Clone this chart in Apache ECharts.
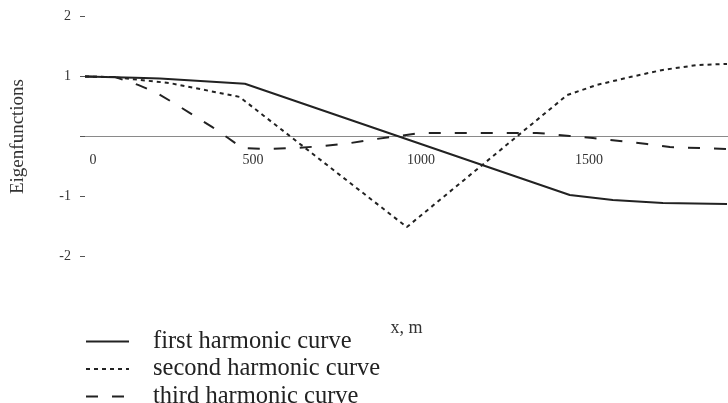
<!DOCTYPE html>
<html>
<head>
<meta charset="utf-8">
<script src="https://cdn.jsdelivr.net/npm/echarts@6/dist/echarts.min.js"></script>
<style>
html,body{margin:0;padding:0;background:#fff;}
#c{width:728px;height:403px;}
</style>
</head>
<body>
<div id="c"></div>
<script>
// Data
const seriesNames = ['first harmonic curve', 'second harmonic curve', 'third harmonic curve'];

const firstX = [0, 150, 223, 476, 1443, 1571, 1720, 1911];
const firstY = [1.0, 0.98, 0.965, 0.88, -0.975, -1.06, -1.11, -1.125];

const secondX = [0, 83, 253, 460, 958, 1435, 1524, 1622, 1720, 1821, 1911];
const secondY = [1.0, 0.99, 0.89, 0.66, -1.51, 0.69, 0.86, 0.99, 1.11, 1.19, 1.21];

const thirdX = [0, 90, 158, 214, 274, 321, 378, 426, 467, 542, 631, 708, 789, 869, 938, 997, 1345, 1443, 1512, 1592, 1673, 1741, 1911];
const thirdY = [1.0, 0.99, 0.86, 0.725, 0.525, 0.36, 0.16, -0.025, -0.19, -0.21, -0.19, -0.16, -0.11, -0.04, 0.01, 0.06, 0.06, 0.01, -0.025, -0.075, -0.125, -0.175, -0.21];

const xTickLabels = ['0', '500', '1000', '1500'];
const yTickLabels = ['-2', '-1', '', '1', '2'];

const pairs = (xs, ys) => xs.map((x, i) => [x, ys[i]]);
const FONT = 'Liberation Serif';
const INK = '#222';

const chart = echarts.init(document.getElementById('c'), null, {renderer: 'canvas'});
chart.setOption({
  animation: false,
  backgroundColor: '#fff',
  grid: {left: 85, right: 0, top: 16.5, bottom: 146.5, containLabel: false, outerBoundsMode: 'none'},
  legend: {
    orient: 'vertical',
    left: 85,
    top: 329,
    height: 120,
    padding: 0,
    itemWidth: 43,
    itemHeight: 14,
    itemGap: 2.5,
    selectedMode: false,
    data: seriesNames,
    itemStyle: {opacity: 0, borderWidth: 0},
    formatter: name => '{t|' + name + '}',
    textStyle: {
      fontFamily: FONT, fontSize: 24.5, color: INK,
      rich: {t: {fontFamily: FONT, fontSize: 24.5, color: INK, lineHeight: 24, padding: [0, 0, 0, 19]}}
    }
  },
  xAxis: {
    type: 'value',
    min: 0,
    max: 1914,
    interval: 500,
    offset: -120,
    name: 'x, m',
    nameLocation: 'middle',
    nameGap: 183,
    nameTextStyle: {fontFamily: FONT, fontSize: 18, color: '#333'},
    axisLine: {show: true, onZero: false, lineStyle: {color: '#8a8a8a', width: 1}},
    axisTick: {show: false},
    splitLine: {show: false},
    axisLabel: {
      showMaxLabel: false,
      margin: 17,
      fontFamily: FONT, fontSize: 14, color: '#333',
      formatter: v => {
        const i = Math.round(v / 500);
        if (v % 500 !== 0 || i >= xTickLabels.length) return '';
        return i === 0 ? '{z|' + xTickLabels[0] + '}' : xTickLabels[i];
      },
      rich: {z: {fontFamily: FONT, fontSize: 14, color: '#333', padding: [0, 0, 0, 16]}}
    }
  },
  yAxis: {
    type: 'value',
    min: -2,
    max: 2,
    interval: 1,
    name: 'Eigenfunctions',
    nameLocation: 'middle',
    nameGap: 57,
    nameTextStyle: {fontFamily: FONT, fontSize: 19, color: '#333'},
    axisLine: {show: false},
    axisTick: {show: true, length: 5, lineStyle: {color: '#555', width: 1}},
    splitLine: {show: false},
    axisLabel: {
      margin: 14,
      fontFamily: FONT, fontSize: 14, color: '#333',
      formatter: v => yTickLabels[Math.round(v) + 2] || ''
    }
  },
  series: [
    {
      name: seriesNames[0], type: 'line', symbol: 'none', smooth: false,
      data: pairs(firstX, firstY),
      lineStyle: {color: INK, width: 2, type: 'solid'},
      itemStyle: {color: INK}
    },
    {
      name: seriesNames[1], type: 'line', symbol: 'none', smooth: false,
      data: pairs(secondX, secondY),
      lineStyle: {color: INK, width: 2, type: [4, 4]},
      itemStyle: {color: INK}
    },
    {
      name: seriesNames[2], type: 'line', symbol: 'none', smooth: false,
      data: pairs(thirdX, thirdY),
      lineStyle: {color: INK, width: 2, type: [12, 14]},
      itemStyle: {color: INK}
    }
  ]
});
</script>
</body>
</html>
